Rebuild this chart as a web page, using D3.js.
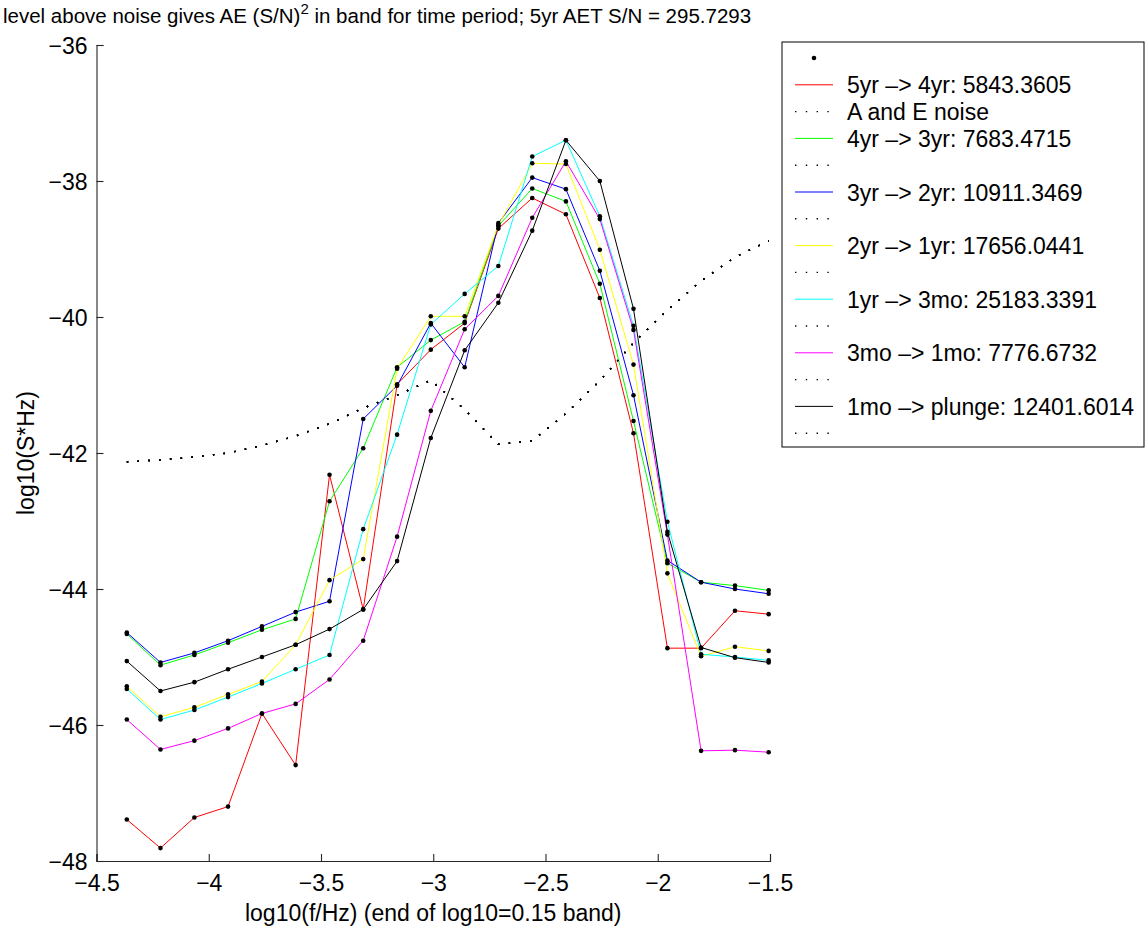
<!DOCTYPE html>
<html>
<head>
<meta charset="utf-8">
<script src="https://cdn.jsdelivr.net/npm/d3@7/dist/d3.min.js"></script>
<style>
  html, body { margin: 0; padding: 0; background: #fff; }
  svg { display: block; font-family: "Liberation Sans", Arial, Helvetica, sans-serif; }
</style>
</head>
<body>
<svg id="chart" width="1145" height="930"></svg>
<script>
// log10 of the upper edge of each 0.15-wide frequency band
const bandX = [-4.365, -4.215, -4.064, -3.914, -3.763, -3.613, -3.462, -3.312, -3.161, -3.011,
               -2.860, -2.710, -2.559, -2.409, -2.258, -2.108, -1.957, -1.807, -1.656, -1.506];

// log10(S*Hz) per band for each time period
const yr5to4 = [-47.39, -47.81, -47.36, -47.20, -45.83, -46.59, -42.32, -44.30, -40.99, -40.48,
                -40.09, -38.70, -38.25, -38.49, -39.72, -41.71, -44.87, -44.87, -44.32, -44.37];
const yr4to3 = [-44.66, -45.12, -44.97, -44.79, -44.60, -44.44, -42.71, -41.93, -40.74, -40.34,
                -40.07, -38.66, -38.11, -38.30, -39.51, -41.53, -43.62, -43.90, -43.95, -44.02];
const yr3to2 = [-44.64, -45.08, -44.94, -44.76, -44.55, -44.34, -44.18, -41.50, -41.01, -40.09,
                -40.74, -38.62, -37.95, -38.12, -39.32, -41.15, -43.58, -43.90, -44.00, -44.07];
const yr2to1 = [-45.43, -45.88, -45.74, -45.55, -45.36, -44.82, -43.87, -43.56, -40.76, -39.99,
                -39.99, -38.65, -37.74, -37.75, -39.01, -40.70, -43.77, -44.99, -44.85, -44.91];
const yr1to3mo = [-45.47, -45.92, -45.78, -45.59, -45.39, -45.18, -44.97, -43.12, -41.73, -40.11,
                  -39.66, -39.25, -37.64, -37.40, -38.52, -40.13, -43.01, -44.96, -45.00, -45.05];
const mo3to1 = [-45.92, -46.36, -46.23, -46.05, -45.83, -45.69, -45.33, -44.76, -43.23, -41.38,
                -40.18, -39.69, -38.54, -37.71, -38.56, -40.19, -43.20, -46.38, -46.37, -46.40];
const mo1toPlunge = [-45.06, -45.50, -45.37, -45.18, -45.00, -44.82, -44.59, -44.30, -43.59, -41.78,
                     -40.49, -39.79, -38.73, -37.40, -38.00, -39.88, -43.16, -44.86, -45.01, -45.08];

// A and E noise level in each band
const noiseAE = [-42.13, -42.10, -42.06, -42.00, -41.89, -41.75, -41.57, -41.34, -41.15, -40.93,
                 -41.36, -41.87, -41.82, -41.42, -40.94, -40.38, -39.90, -39.47, -39.12, -38.88];

const seriesLabels = ["5yr \u2013> 4yr: 5843.3605", "4yr \u2013> 3yr: 7683.4715", "3yr \u2013> 2yr: 10911.3469",
                      "2yr \u2013> 1yr: 17656.0441", "1yr \u2013> 3mo: 25183.3391", "3mo \u2013> 1mo: 7776.6732",
                      "1mo \u2013> plunge: 12401.6014"];
const seriesColors = ["#ff0000", "#00ff00", "#0000ff", "#ffff00", "#00ffff", "#ff00ff", "#000000"];
const seriesValues = [yr5to4, yr4to3, yr3to2, yr2to1, yr1to3mo, mo3to1, mo1toPlunge];

const xTicks = [-4.5, -4, -3.5, -3, -2.5, -2, -1.5];
const yTicks = [-48, -46, -44, -42, -40, -38, -36];

const svg = d3.select("#chart");
const plot = { left: 96.5, right: 770, top: 45, bottom: 861 };

const x = d3.scaleLinear().domain([-4.5, -1.5]).range([plot.left, plot.right]);
const y = d3.scaleLinear().domain([-48, -36]).range([plot.bottom, plot.top]);
const fmt = d3.format("");

// title with superscript
const title = svg.append("text").attr("x", 3).attr("y", 23)
  .attr("font-size", 20.5).attr("fill", "#000");
title.append("tspan").text("level above noise gives AE (S/N)");
title.append("tspan").attr("dy", -9).attr("font-size", 15).text("2");
title.append("tspan").attr("dy", 9).text(" in band for time period; 5yr AET S/N = 295.7293");

// axes (inward ticks, no box)
const xAxis = d3.axisBottom(x).tickValues(xTicks).tickFormat(fmt).tickSize(-7).tickPadding(14);
const yAxis = d3.axisLeft(y).tickValues(yTicks).tickFormat(fmt).tickSize(-7).tickPadding(9);

const gx = svg.append("g").attr("transform", `translate(0,${plot.bottom})`).call(xAxis);
const gy = svg.append("g").attr("transform", `translate(${plot.left},0)`).call(yAxis);
[gx, gy].forEach(g => {
  g.selectAll("text").attr("font-size", 23).attr("fill", "#000")
    .attr("font-family", "'Liberation Sans', Arial, sans-serif");
  g.selectAll("path,line").attr("stroke", "#262626").attr("stroke-width", 1.1);
});
gy.selectAll("text").attr("dy", "0.36em");

svg.append("text").attr("x", (plot.left + plot.right) / 2).attr("y", 921)
  .attr("text-anchor", "middle").attr("font-size", 23)
  .text("log10(f/Hz) (end of log10=0.15 band)");

svg.append("text").attr("transform", `translate(34,${(plot.top + plot.bottom) / 2}) rotate(-90)`)
  .attr("text-anchor", "middle").attr("font-size", 23)
  .text("log10(S*Hz)");

const line = d3.line().x((d, i) => x(bandX[i])).y(d => y(d));
const dotted = "1.4,9.4";

// one band curve followed by the noise curve, for each time period
seriesValues.forEach((vals, k) => {
  svg.append("path").datum(vals).attr("d", line)
    .attr("fill", "none").attr("stroke", seriesColors[k]).attr("stroke-width", 1);
  svg.append("path").datum(noiseAE).attr("d", line)
    .attr("fill", "none").attr("stroke", "#000").attr("stroke-width", 1.4)
    .attr("stroke-dasharray", dotted);
});

// band markers
seriesValues.forEach(vals => {
  svg.append("g").selectAll("circle").data(vals).join("circle")
    .attr("cx", (d, i) => x(bandX[i])).attr("cy", d => y(d))
    .attr("r", 2.3).attr("fill", "#000");
});

// legend
const leg = svg.append("g");
leg.append("rect").attr("x", 782).attr("y", 42).attr("width", 362).attr("height", 405)
  .attr("fill", "#fff").attr("stroke", "#000").attr("stroke-width", 1);

const rowY = i => 58 + 26.8 * i;
const entries = [{ kind: "dot", label: "" }];
seriesLabels.forEach((lab, k) => {
  entries.push({ kind: "line", color: seriesColors[k], label: lab });
  entries.push({ kind: "noise", label: k === 0 ? "A and E noise" : "" });
});

entries.forEach((e, i) => {
  const yy = rowY(i);
  if (e.kind === "dot") {
    leg.append("circle").attr("cx", 814).attr("cy", yy).attr("r", 2.3).attr("fill", "#000");
  } else if (e.kind === "line") {
    leg.append("line").attr("x1", 795).attr("x2", 833).attr("y1", yy).attr("y2", yy)
      .attr("stroke", e.color).attr("stroke-width", 1);
  } else {
    leg.append("line").attr("x1", 795).attr("x2", 833).attr("y1", yy).attr("y2", yy)
      .attr("stroke", "#000").attr("stroke-width", 1.4).attr("stroke-dasharray", dotted);
  }
  if (e.label) {
    leg.append("text").attr("x", 847).attr("y", yy + 8.5).attr("font-size", 23).text(e.label);
  }
});
</script>
</body>
</html>
